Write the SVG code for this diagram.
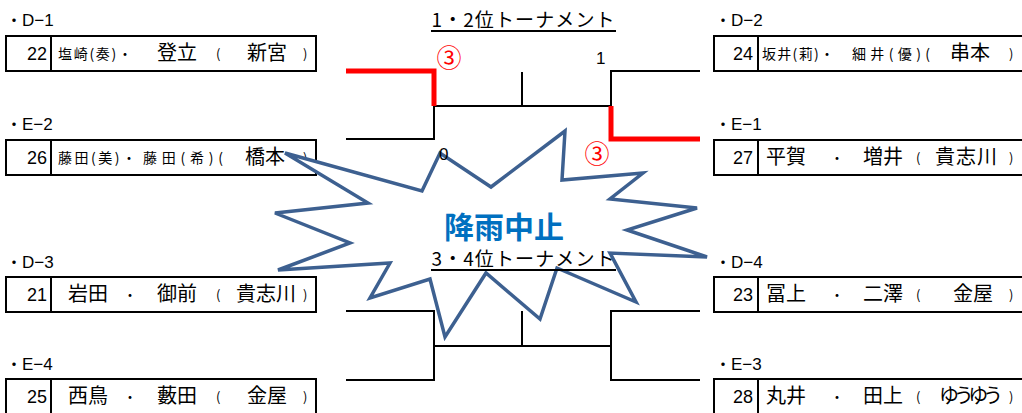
<svg xmlns="http://www.w3.org/2000/svg" width="1022" height="413" viewBox="0 0 1022 413">
<style>
.box{fill:#fff;stroke:#000;stroke-width:2}
.div{stroke:#000;stroke-width:2}
.lbl{font-family:"Liberation Sans","Noto Sans CJK JP",sans-serif;font-size:17px;fill:#000}
.dot{font-family:"Noto Sans CJK JP",sans-serif;font-size:16px}
.num{font-family:"Liberation Sans",sans-serif;font-size:18px;fill:#000;text-anchor:end}
.nm{font-family:"Noto Sans CJK JP",sans-serif;font-size:20px;fill:#000}
.sm{font-family:"Noto Sans CJK JP",sans-serif;font-size:14px;fill:#000}
.par{font-family:"Noto Sans CJK JP",sans-serif;font-size:13px;fill:#000}
.ln{fill:none;stroke:#000;stroke-width:2}
.red{fill:none;stroke:#ff0000;stroke-width:5}
.ttl{font-family:"Noto Sans CJK JP",sans-serif;font-size:19px;fill:#000;text-anchor:middle}
.sc{font-family:"Liberation Sans","Noto Sans CJK JP",sans-serif;font-size:17px;fill:#000}
.rc{font-family:"Noto Sans CJK JP",sans-serif;font-size:25px;fill:#ff0000;text-anchor:middle}
</style>
<rect width="1022" height="413" fill="#fff"/>

<g id="titles">
<text class="ttl" x="523" y="27" textLength="183">1・2位トーナメント</text>
<line class="div" x1="431" y1="31" x2="616" y2="31"/>
</g>

<g id="connectors">
<polyline class="ln" points="434,106 434,139 346,139"/>
<line class="ln" x1="434" y1="106" x2="611" y2="106"/>
<line class="ln" x1="522" y1="72" x2="522" y2="106"/>
<polyline class="ln" points="700,71 611,71 611,106"/>
<polyline class="red" points="346,71 434,71 434,106"/>
<polyline class="red" points="611,106 611,139 700,139"/>
<polyline class="ln" points="346,311 434,311 434,380 346,380"/>
<line class="ln" x1="434" y1="346" x2="611" y2="346"/>
<line class="ln" x1="522" y1="311" x2="522" y2="346"/>
<polyline class="ln" points="700,311 611,311 611,380 700,380"/>
</g>

<g id="scores">
<text class="rc" x="449" y="67">③</text>
<text class="sc" x="596" y="64">1</text>
<text class="rc" x="597" y="163">③</text>
</g>

<g id="D-1">
<text class="lbl" x="6" y="26"><tspan class="dot">・</tspan>D−1</text>
<rect class="box" x="6" y="36" width="310" height="35"/>
<line class="div" x1="51" y1="36" x2="51" y2="71"/>
<text class="num" x="47" y="60">22</text>
<text class="sm" x="58" y="59" textLength="74">塩崎(奏)・</text>
<text class="nm" x="157" y="60">登立</text>
<text class="par" x="216" y="59">(</text>
<text class="nm" x="247" y="60">新宮</text>
<text class="par" x="303" y="59">)</text>
</g>

<g id="E-2">
<text class="lbl" x="6" y="130"><tspan class="dot">・</tspan>E−2</text>
<rect class="box" x="6" y="140" width="310" height="35"/>
<line class="div" x1="51" y1="140" x2="51" y2="175"/>
<text class="num" x="47" y="164">26</text>
<text class="sm" x="58" y="163" textLength="78">藤田(美)・</text>
<text class="sm" x="143" y="163" textLength="80">藤田(希)(</text>
<text class="nm" x="245" y="164">橋本</text>
<text class="par" x="303" y="163">)</text>
</g>

<g id="D-3">
<text class="lbl" x="6" y="268"><tspan class="dot">・</tspan>D−3</text>
<rect class="box" x="6" y="277" width="310" height="35"/>
<line class="div" x1="51" y1="277" x2="51" y2="312"/>
<text class="num" x="47" y="301">21</text>
<text class="nm" x="68" y="301">岩田</text>
<text class="sm" x="123" y="300">・</text>
<text class="nm" x="157" y="301">御前</text>
<text class="par" x="216" y="300">(</text>
<text class="nm" x="236" y="301" textLength="60">貴志川</text>
<text class="par" x="303" y="300">)</text>
</g>

<g id="E-4">
<text class="lbl" x="6" y="370"><tspan class="dot">・</tspan>E−4</text>
<rect class="box" x="6" y="379" width="310" height="35"/>
<line class="div" x1="51" y1="379" x2="51" y2="413"/>
<text class="num" x="47" y="403">25</text>
<text class="nm" x="68" y="403">西鳥</text>
<text class="sm" x="123" y="402">・</text>
<text class="nm" x="157" y="403">藪田</text>
<text class="par" x="216" y="402">(</text>
<text class="nm" x="247" y="403">金屋</text>
<text class="par" x="303" y="402">)</text>
</g>

<g id="D-2">
<text class="lbl" x="715" y="26"><tspan class="dot">・</tspan>D−2</text>
<rect class="box" x="714" y="36" width="310" height="35"/>
<line class="div" x1="758" y1="36" x2="758" y2="71"/>
<text class="num" x="753" y="60">24</text>
<text class="sm" x="762" y="59" textLength="72">坂井(莉)・</text>
<text class="sm" x="852" y="59" textLength="78">細井(優)(</text>
<text class="nm" x="950" y="60">串本</text>
<text class="par" x="1009" y="59">)</text>
</g>

<g id="E-1">
<text class="lbl" x="715" y="130"><tspan class="dot">・</tspan>E−1</text>
<rect class="box" x="714" y="140" width="310" height="35"/>
<line class="div" x1="758" y1="140" x2="758" y2="175"/>
<text class="num" x="753" y="164">27</text>
<text class="nm" x="766" y="164">平賀</text>
<text class="sm" x="830" y="163">・</text>
<text class="nm" x="863" y="164">増井</text>
<text class="par" x="916" y="163">(</text>
<text class="nm" x="935" y="164" textLength="62">貴志川</text>
<text class="par" x="1009" y="163">)</text>
</g>

<g id="D-4">
<text class="lbl" x="715" y="268"><tspan class="dot">・</tspan>D−4</text>
<rect class="box" x="714" y="277" width="310" height="35"/>
<line class="div" x1="758" y1="277" x2="758" y2="312"/>
<text class="num" x="753" y="301">23</text>
<text class="nm" x="766" y="301">冨上</text>
<text class="sm" x="830" y="300">・</text>
<text class="nm" x="863" y="301">二澤</text>
<text class="par" x="916" y="300">(</text>
<text class="nm" x="953" y="301">金屋</text>
<text class="par" x="1009" y="300">)</text>
</g>

<g id="E-3">
<text class="lbl" x="715" y="370"><tspan class="dot">・</tspan>E−3</text>
<rect class="box" x="714" y="379" width="310" height="35"/>
<line class="div" x1="758" y1="379" x2="758" y2="413"/>
<text class="num" x="753" y="403">28</text>
<text class="nm" x="766" y="403">丸井</text>
<text class="sm" x="830" y="402">・</text>
<text class="nm" x="863" y="403">田上</text>
<text class="par" x="916" y="402">(</text>
<text class="nm" x="939" y="403" textLength="64">ゆうゆう</text>
<text class="par" x="1009" y="402">)</text>
</g>

<g id="starburst">
<polygon points="285,153 422,191 440,153 491,187 565,131 562,180 643,173 610,199 697,208 627,230 707,257 610,253 636,302 557,268 540,319 486,273 445,337 430,279 370,298 390,263 278,270 350,243 275,213 368,203" fill="#fff" stroke="#3D6090" stroke-width="3.5" stroke-linejoin="miter"/>
<text x="504" y="238" font-family="Noto Sans CJK JP, sans-serif" font-size="30" font-weight="bold" fill="#0070C0" text-anchor="middle">降雨中止</text>
</g>

<g id="score0">
<text class="sc" x="439" y="160">0</text>
</g>

<g id="title34">
<text class="ttl" x="523" y="266" textLength="183">3・4位トーナメント</text>
<line class="div" x1="431" y1="270" x2="616" y2="270"/>
</g>
</svg>
